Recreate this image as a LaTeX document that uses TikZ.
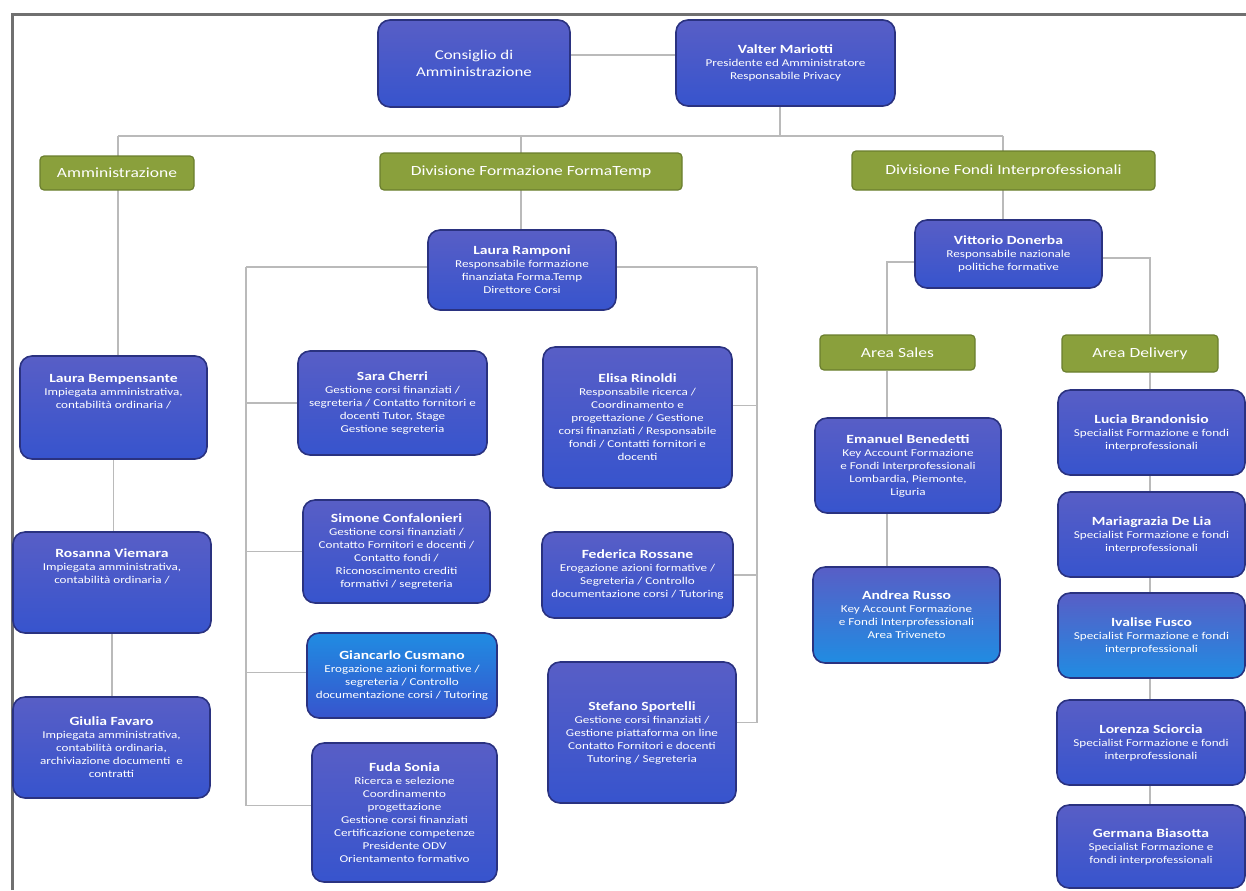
\documentclass[tikz,border=0pt]{standalone}
\usepackage{fontspec}
\setmainfont{Carlito}[FakeStretch=1.25]
\usetikzlibrary{backgrounds}
\definecolor{boxtop}{RGB}{88,94,198}
\definecolor{boxbot}{RGB}{55,84,205}
\definecolor{boxline}{RGB}{42,50,128}
\definecolor{cyanband}{RGB}{32,140,226}
\definecolor{areafill}{RGB}{138,160,60}
\definecolor{arealine}{RGB}{106,126,46}
\definecolor{linkc}{RGB}{186,186,186}
\definecolor{framec}{RGB}{112,112,112}
\newcommand{\nm}[1]{{\fontsize{6.25}{7.5}\selectfont\bfseries #1}}
\tikzset{
  sz/.style 2 args={minimum width=#1*0.5pt, minimum height=#2*0.5pt},
  person/.style={rounded corners=6pt, draw=boxline, line width=0.8pt,
    top color=boxtop, bottom color=boxbot, text=white, inner sep=0pt,
    align=center, font=\fontsize{5.25}{6.5}\selectfont},
  area/.style={rounded corners=2pt, draw=arealine, line width=0.6pt,
    fill=areafill, text=white, inner sep=0pt, align=center,
    font=\fontsize{7}{8}\selectfont},
  link/.style={draw=linkc, line width=0.6pt}
}
\begin{document}
\begin{tikzpicture}[x=0.5pt, y=-0.5pt]
  \useasboundingbox (0,0) rectangle (1246,890);
  \draw [framec, line width=1.5pt] (12,890) -- (12,14) -- (1246,14);
  % top
  \node [person, sz={192}{87}, font=\fontsize{6.75}{8.5}\selectfont] (cda) at (474,63.5)
    {Consiglio di\\Amministrazione};
  \node [person, sz={219}{86}] (vm) at (785.5,63)
    {\nm{Valter Mariotti}\\Presidente ed Amministratore\\Responsabile Privacy};
  % divisions
  \node [area, sz={154}{34}] (amm) at (117,173) {Amministrazione};
  \node [area, sz={302}{37}] (dff) at (531,171.5) {Divisione Formazione FormaTemp};
  \node [area, sz={303}{39}] (dfi) at (1003.5,170.5) {Divisione Fondi Interprofessionali};
  % amministrazione
  \node [person, sz={187}{103}] (lb) at (113.5,407.5)
    {\nm{Laura Bempensante}\\Impiegata amministrativa,\\contabilità ordinaria /\\[10pt]};
  \node [person, sz={198}{101}] (rv) at (112,582.5)
    {\nm{Rosanna Viemara}\\Impiegata amministrativa,\\contabilità ordinaria /\\[10pt]};
  \node [person, sz={197}{101}] (gf) at (111.5,747.5)
    {\nm{Giulia Favaro}\\Impiegata amministrativa,\\contabilità ordinaria,\\archiviazione documenti\ \ e\\contratti};
  % formazione formatemp
  \node [person, sz={188}{80}] (lr) at (522,270)
    {\nm{Laura Ramponi}\\Responsabile formazione\\finanziata Forma.Temp\\Direttore Corsi};
  \node [person, sz={189}{104}] (sc) at (392.5,403)
    {\nm{Sara Cherri}\\Gestione corsi finanziati /\\segreteria / Contatto fornitori e\\docenti Tutor, Stage\\Gestione segreteria};
  \node [person, sz={189}{141}] (er) at (637.5,417.5)
    {\nm{Elisa Rinoldi}\\Responsabile ricerca /\\Coordinamento e\\progettazione / Gestione\\corsi finanziati / Responsabile\\fondi / Contatti fornitori e\\docenti};
  \node [person, sz={187}{103}] (scf) at (396.5,551.5)
    {\nm{Simone Confalonieri}\\Gestione corsi finanziati /\\Contatto Fornitori e docenti /\\Contatto fondi /\\Riconoscimento crediti\\formativi / segreteria};
  \node [person, sz={191}{86}] (fr) at (637.5,575)
    {\nm{Federica Rossane}\\Erogazione azioni formative /\\Segreteria / Controllo\\documentazione corsi / Tutoring};
  \node [person, sz={190}{85}, top color=cyanband] (gc) at (402,675.5)
    {\nm{Giancarlo Cusmano}\\Erogazione azioni formative /\\segreteria / Controllo\\documentazione corsi / Tutoring};
  \node [person, sz={188}{141}] (ss) at (642,732.5)
    {\nm{Stefano Sportelli}\\Gestione corsi finanziati /\\Gestione piattaforma on line\\Contatto Fornitori e docenti\\Tutoring / Segreteria};
  \node [person, sz={185}{139}] (fs) at (404.5,812.5)
    {\nm{Fuda Sonia}\\Ricerca e selezione\\Coordinamento\\progettazione\\Gestione corsi finanziati\\Certificazione competenze\\Presidente ODV\\Orientamento formativo};
  % fondi interprofessionali
  \node [person, sz={187}{68}] (vd) at (1008.5,254)
    {\nm{Vittorio Donerba}\\Responsabile nazionale\\politiche formative};
  \node [area, sz={155}{35}] (as) at (897.5,352.5) {Area Sales};
  \node [area, sz={156}{37}] (ad) at (1140,353.5) {Area Delivery};
  \node [person, sz={186}{95}] (eb) at (908,465.5)
    {\nm{Emanuel Benedetti}\\Key Account Formazione\\e Fondi Interprofessionali\\Lombardia, Piemonte,\\Liguria};
  \node [person, sz={187}{96}, bottom color=cyanband] (ar) at (906.5,615)
    {\nm{Andrea Russo}\\Key Account Formazione\\e Fondi Interprofessionali\\Area Triveneto};
  \node [person, sz={187}{85}] (lbr) at (1151.5,432.5)
    {\nm{Lucia Brandonisio}\\Specialist Formazione e fondi\\interprofessionali};
  \node [person, sz={187}{85}] (mdl) at (1151.5,534.5)
    {\nm{Mariagrazia De Lia}\\Specialist Formazione e fondi\\interprofessionali};
  \node [person, sz={187}{85}, bottom color=cyanband] (ifu) at (1151.5,635.5)
    {\nm{Ivalise Fusco}\\Specialist Formazione e fondi\\interprofessionali};
  \node [person, sz={188}{85}] (lsc) at (1151,742.5)
    {\nm{Lorenza Sciorcia}\\Specialist Formazione e fondi\\interprofessionali};
  \node [person, sz={188}{83}] (gbi) at (1151,846.5)
    {\nm{Germana Biasotta}\\Specialist Formazione e\\fondi interprofessionali};
  % connectors
  \coordinate (bA) at (118,136);
  \coordinate (bV) at (780,136);
  \coordinate (bF) at (521,136);
  \coordinate (bI) at (1003,136);
  \coordinate (rL) at (246,267);
  \coordinate (rR) at (757,267);
  \coordinate (sL) at (887,262);
  \coordinate (dR) at (1150,258);
  \begin{scope}[on background layer]
    \draw [link] ([yshift=4.25pt]cda.east) -- ([yshift=4.25pt]cda.east -| vm.west);
    \draw [link] (bV |- vm.south) -- (bV);
    \draw [link] (bA) -- (bI);
    \draw [link] (bA) -- (bA |- lb.north);
    \draw [link] (lb.south) -- (lb.south |- rv.north);
    \draw [link] (rv.south) -- (rv.south |- gf.north);
    \draw [link] (bF) -- (bF |- lr.north);
    \draw [link] (rL) -- (rR);
    \draw [link] (rL) -- ([yshift=3.5pt]rL |- fs.west);
    \draw [link] (rR) -- ([yshift=5pt]rR |- ss.east);
    \draw [link] (rL |- sc.west) -- (sc.west);
    \draw [link] (rL |- scf.west) -- (scf.west);
    \draw [link] ([yshift=1.5pt]rL |- gc.west) -- ([yshift=1.5pt]gc.west);
    \draw [link] ([yshift=3.5pt]rL |- fs.west) -- ([yshift=3.5pt]fs.west);
    \draw [link] ([yshift=6pt]er.east) -- ([yshift=6pt]rR |- er.east);
    \draw [link] (fr.east) -- (rR |- fr.east);
    \draw [link] ([yshift=5pt]ss.east) -- ([yshift=5pt]rR |- ss.east);
    \draw [link] (bI) -- (bI |- vd.north);
    \draw [link] (vd.west |- sL) -- (sL) -- (sL |- as.north);
    \draw [link] (sL |- as.south) -- (sL |- eb.north);
    \draw [link] (sL |- eb.south) -- (sL |- ar.north);
    \draw [link] (vd.east |- dR) -- (dR) -- (dR |- ad.north);
    \draw [link] (dR |- ad.south) -- (dR |- lbr.north);
    \draw [link] (dR |- lbr.south) -- (dR |- mdl.north);
    \draw [link] (dR |- mdl.south) -- (dR |- ifu.north);
    \draw [link] (dR |- ifu.south) -- (dR |- lsc.north);
    \draw [link] (dR |- lsc.south) -- (dR |- gbi.north);
  \end{scope}
\end{tikzpicture}
\end{document}
